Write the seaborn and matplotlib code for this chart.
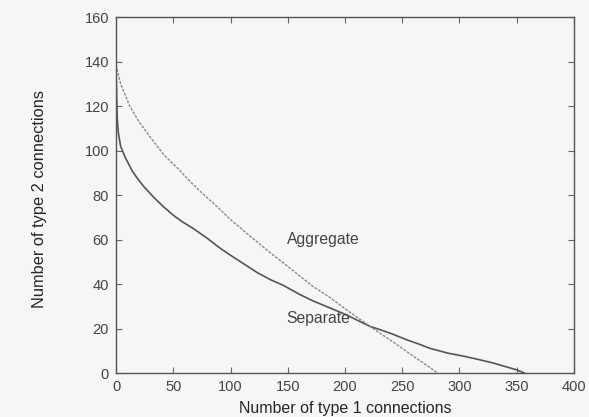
import matplotlib
matplotlib.use("Agg")
import matplotlib.pyplot as plt
import pandas as pd
import seaborn as sns

# Separate allocation curve (type 1 vs type 2 connections)
sep_x = [0, 0.5, 1, 2, 4, 8, 14, 18, 24, 33, 41, 50, 58, 67.5, 80, 90, 100,
         112, 124, 135, 146, 160, 172, 186, 200, 222, 231, 242, 254,
         265, 274, 290, 305, 318, 330, 340, 350, 357]
sep_y = [138, 125, 115, 108, 102, 97, 91, 88, 84, 79, 75, 71, 68, 65, 60.5,
         56.5, 53, 49, 45, 42, 39.5, 35.5, 32.5, 29.5, 26.5, 21, 19.5, 17.5, 15,
         13, 11.2, 9, 7.5, 6, 4.5, 3, 1.5, 0]

# Aggregate allocation curve
agg_x = [0, 4, 12, 20, 30, 42, 56, 62, 75, 88, 100, 115, 135, 150, 161, 172,
         187, 200, 222, 231, 245, 260, 273, 281]
agg_y = [138.5, 130, 120, 113, 106, 98, 91, 87.5, 81, 75, 69, 62.5, 54, 48,
         43.5, 39, 34, 29, 21, 17.8, 13, 7.5, 3, 0]

x_ticks = [0, 50, 100, 150, 200, 250, 300, 350, 400]
y_ticks = [0, 20, 40, 60, 80, 100, 120, 140, 160]

sns.set_style("ticks")
plt.rcParams["font.family"] = ["Liberation Sans", "DejaVu Sans"]
plt.rcParams["text.color"] = "#444444"
plt.rcParams["xtick.color"] = "#444444"
plt.rcParams["ytick.color"] = "#444444"

bg = "#f8f5f6"
fig = plt.figure(figsize=(5.89, 4.17), dpi=100, facecolor=bg)
ax = fig.add_axes([0.197, 0.105, 0.7775, 0.854], facecolor=bg)

sep = pd.DataFrame({"x": sep_x, "y": sep_y})
agg = pd.DataFrame({"x": agg_x, "y": agg_y})

sns.lineplot(data=sep, x="x", y="y", ax=ax, color="#555555", linewidth=1.2,
             estimator=None, sort=False)
sns.lineplot(data=agg, x="x", y="y", ax=ax, color="#888888", linewidth=1.0,
             linestyle=(0, (2, 1)), estimator=None, sort=False)

ax.text(149, 60, "Aggregate", fontsize=11.3, ha="left", va="center", color="#444444")
ax.text(149, 24.8, "Separate", fontsize=11.3, ha="left", va="center", color="#444444")

ax.set_xlim(0, 400)
ax.set_ylim(0, 160)
ax.set_xticks(x_ticks)
ax.set_yticks(y_ticks)
ax.tick_params(direction="in", length=4, width=0.8, labelsize=10.5, pad=5,
               top=True, right=True, color="#666666")
for s in ax.spines.values():
    s.set_visible(True)
    s.set_color("#555555")
    s.set_linewidth(1.0)

ax.set_xlabel("Number of type 1 connections", fontsize=11.5, labelpad=5)
ax.set_ylabel("Number of type 2 connections", fontsize=11.8, labelpad=27, y=0.49)

fig.savefig("out.png", dpi=100, facecolor=bg)
